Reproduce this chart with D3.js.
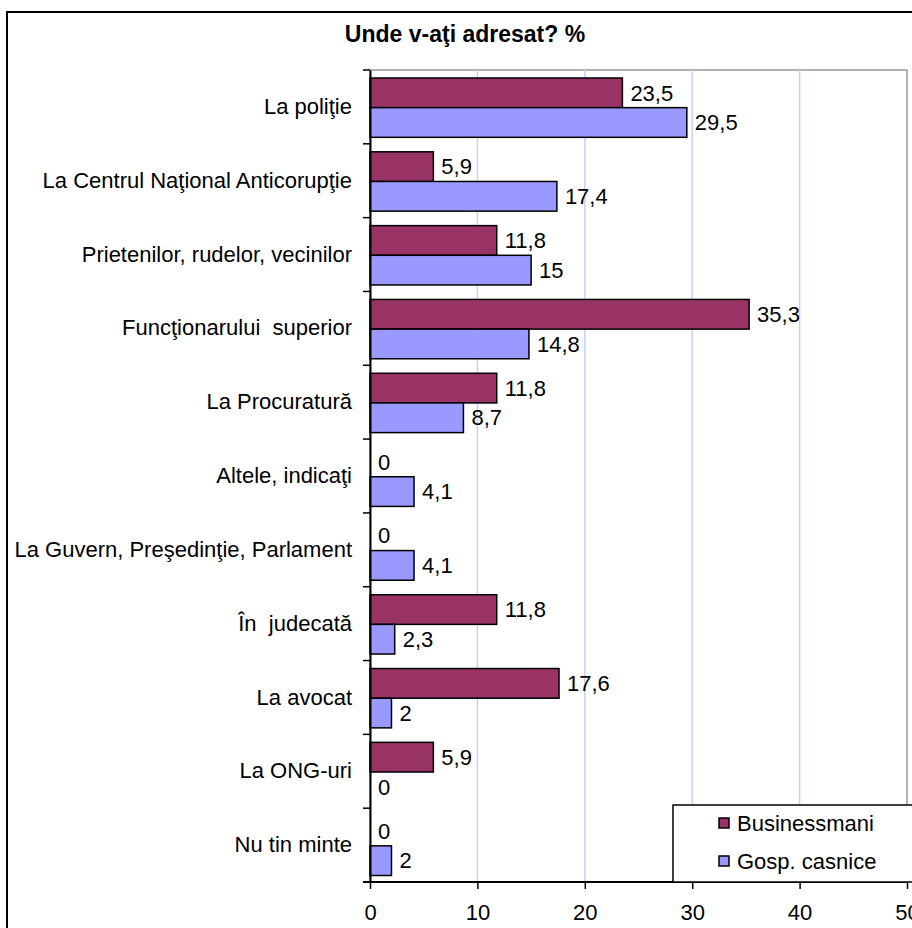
<!DOCTYPE html>
<html>
<head>
    <title>Unde v-aţi adresat?</title>
    <meta charset="utf-8">
    <script src="https://d3js.org/d3.v7.min.js"></script>
    <style>
      body { margin: 0; background: #fff; }
      svg text { font-family: Arial, 'Liberation Sans', sans-serif; white-space: pre; }
    </style>
</head>
<body>
<svg id="chart" width="912" height="928"></svg>
<script>
// data
var categories = ["La poliţie", "La Centrul Naţional Anticorupţie", "Prietenilor, rudelor, vecinilor",
  "Funcţionarului  superior", "La Procuratură", "Altele, indicaţi", "La Guvern, Preşedinţie, Parlament",
  "În  judecată", "La avocat", "La ONG-uri", "Nu tin minte"];
var businessmani = [23.5, 5.9, 11.8, 35.3, 11.8, 0, 0, 11.8, 17.6, 5.9, 0];
var gospCasnice = [29.5, 17.4, 15, 14.8, 8.7, 4.1, 4.1, 2.3, 2, 0, 2];
var seriesNames = ["Businessmani", "Gosp. casnice"];
var xTicks = [0, 10, 20, 30, 40, 50];
var title = "Unde v-aţi adresat? %";

var colorBusiness = '#993366';
var colorGosp = '#9999ff';
var colorGrid = '#ccccff';
var fontSize = 22;

var svg = d3.select('#chart');
// note: "top" is taken by window.top, so plot* names
var plotLeft = 370, plotRight = 907, plotTop = 70, plotBottom = 882;

var x = d3.scaleLinear().domain([0, 50]).range([plotLeft, plotRight]);
var y = d3.scaleBand().domain(categories).range([plotTop, plotBottom]);
var sub = d3.scaleBand().domain(seriesNames).range([8, y.bandwidth() - 6.5]);

// outer chart border (cut off on the right and bottom)
svg.append('rect')
  .attr('x', 7).attr('y', 12).attr('width', 960).attr('height', 960)
  .attr('fill', '#fff').attr('stroke', '#000').attr('stroke-width', 2);

svg.append('text')
  .attr('x', 465).attr('y', 42)
  .attr('text-anchor', 'middle')
  .attr('font-size', 23).attr('font-weight', 'bold')
  .text(title);

// plot area border (gray) and grid
svg.append('rect')
  .attr('x', plotLeft).attr('y', plotTop)
  .attr('width', plotRight - plotLeft).attr('height', plotBottom - plotTop)
  .attr('fill', 'none').attr('stroke', '#999').attr('stroke-width', 1.5);

svg.selectAll('.grid').data(xTicks.slice(1, -1)).enter().append('line')
  .attr('class', 'grid')
  .attr('x1', x).attr('x2', x)
  .attr('y1', plotTop).attr('y2', plotBottom)
  .attr('stroke', colorGrid).attr('stroke-width', 1.5);

// bars
var rows = svg.selectAll('.row').data(categories).enter().append('g')
  .attr('class', 'row')
  .attr('transform', function(d) { return 'translate(0,' + y(d) + ')'; });

function drawSeries(values, name, color) {
  rows.append('rect')
    .attr('x', x(0))
    .attr('y', sub(name))
    .attr('width', function(d, i) { return x(values[i]) - x(0); })
    .attr('height', sub.bandwidth())
    .attr('fill', color)
    .attr('stroke', '#000')
    .attr('stroke-width', 1.5)
    .style('display', function(d, i) { return values[i] > 0 ? null : 'none'; });

  rows.append('text')
    .attr('x', function(d, i) { return x(values[i]) + 8; })
    .attr('y', sub(name) + sub.bandwidth() / 2)
    .attr('dy', '0.35em')
    .attr('font-size', fontSize)
    .text(function(d, i) { return String(values[i]).replace('.', ','); });
}
drawSeries(businessmani, seriesNames[0], colorBusiness);
drawSeries(gospCasnice, seriesNames[1], colorGosp);

// axes
var yAxis = svg.append('g')
  .attr('transform', 'translate(' + plotLeft + ',0)')
  .call(d3.axisLeft(y).tickSize(0).tickPadding(18));
yAxis.select('.domain').attr('stroke', '#000').attr('stroke-width', 2);
yAxis.selectAll('text').attr('font-size', fontSize).attr('fill', '#000')
  .attr('font-family', "Arial, 'Liberation Sans', sans-serif");

// category boundary ticks
svg.selectAll('.ytick').data(d3.range(categories.length + 1)).enter().append('line')
  .attr('class', 'ytick')
  .attr('x1', plotLeft - 7).attr('x2', plotLeft)
  .attr('y1', function(i) { return plotTop + i * y.step(); })
  .attr('y2', function(i) { return plotTop + i * y.step(); })
  .attr('stroke', '#000').attr('stroke-width', 1.5);

var xAxis = svg.append('g')
  .attr('transform', 'translate(0,' + plotBottom + ')')
  .call(d3.axisBottom(x).tickValues(xTicks).tickSize(7).tickPadding(15).tickSizeOuter(0));
xAxis.select('.domain').attr('stroke', '#000').attr('stroke-width', 2)
  .attr('d', 'M' + (plotLeft - 7) + ',0H' + plotRight);
xAxis.selectAll('line').attr('stroke', '#000').attr('stroke-width', 1.5);
xAxis.selectAll('text').attr('font-size', fontSize).attr('fill', '#000')
  .attr('font-family', "Arial, 'Liberation Sans', sans-serif");

// legend
var legend = svg.append('g').attr('transform', 'translate(673,805)');
legend.append('rect')
  .attr('width', 300).attr('height', plotBottom - 805)
  .attr('fill', '#fff').attr('stroke', '#000').attr('stroke-width', 1.5);

var items = legend.selectAll('.item').data(seriesNames).enter().append('g')
  .attr('class', 'item')
  .attr('transform', function(d, i) { return 'translate(0,' + (18 + i * 38) + ')'; });
items.append('rect')
  .attr('x', 46).attr('y', -5).attr('width', 10).attr('height', 10)
  .attr('fill', function(d, i) { return i === 0 ? colorBusiness : colorGosp; })
  .attr('stroke', '#000').attr('stroke-width', 1.5);
items.append('text')
  .attr('x', 64).attr('dy', '0.35em')
  .attr('font-size', fontSize)
  .text(function(d) { return d; });
</script>
</body>
</html>
